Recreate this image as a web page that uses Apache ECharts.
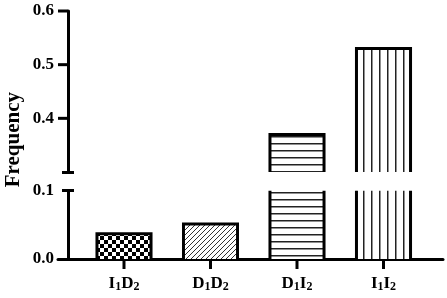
<!DOCTYPE html>
<html>
<head>
<meta charset="utf-8">
<script src="https://cdn.jsdelivr.net/npm/echarts@6/dist/echarts.min.js"></script>
<style>
  html, body { margin: 0; padding: 0; background: #fff; }
  #chart { width: 447px; height: 298px; }
</style>
</head>
<body>
<div id="chart"></div>
<script>
// data
const categories = ['I1D2', 'D1D2', 'D1I2', 'I1I2'];
const frequency = [0.037, 0.051, 0.370, 0.530];
const patterns = ['checker', 'diag', 'horiz', 'vert'];
const upperTicks = [0.4, 0.5, 0.6];
const lowerTicks = [0.0, 0.1];

const FONT = '"Liberation Serif", "Times New Roman", serif';

// canvas tiles used as bar fills
function makePattern(kind) {
  const c = document.createElement('canvas');
  const ctx = c.getContext('2d');
  if (kind === 'checker') {
    c.width = c.height = 8;
    ctx.fillStyle = '#fff'; ctx.fillRect(0, 0, 8, 8);
    ctx.fillStyle = '#000';
    ctx.fillRect(0, 0, 4, 4); ctx.fillRect(4, 4, 4, 4);
  } else if (kind === 'diag') {
    const s = 5;
    c.width = c.height = s;
    ctx.fillStyle = '#fff'; ctx.fillRect(0, 0, s, s);
    ctx.strokeStyle = '#333'; ctx.lineWidth = 1;
    ctx.beginPath();
    ctx.moveTo(0, s); ctx.lineTo(s, 0);
    ctx.moveTo(-1, 1); ctx.lineTo(1, -1);
    ctx.moveTo(s - 1, s + 1); ctx.lineTo(s + 1, s - 1);
    ctx.stroke();
  } else if (kind === 'horiz') {
    c.width = 4; c.height = 7;
    ctx.fillStyle = '#fff'; ctx.fillRect(0, 0, 4, 7);
    ctx.fillStyle = '#222'; ctx.fillRect(0, 3, 4, 1.5);
  } else {
    c.width = 8; c.height = 4;
    ctx.fillStyle = '#fff'; ctx.fillRect(0, 0, 8, 4);
    ctx.fillStyle = '#222'; ctx.fillRect(3, 0, 1.5, 4);
  }
  return { image: c, repeat: 'repeat' };
}
const fills = patterns.map(makePattern);
const line = { stroke: '#000', lineWidth: 3, fill: null };
const axisOffset = 12.75;
const tickLen = 10;

// bar drawn with open ends where the axis is broken
function renderBar(params, api) {
  const idx = api.value(0);
  const val = api.value(1);
  const cs = params.coordSys;
  const bottom = cs.y + cs.height;
  const pt = api.coord([idx, val]);
  if (pt[1] >= bottom) return null;
  const top = Math.max(pt[1], cs.y);
  const w = api.size([1, 0])[0] * 0.625;
  const l = pt[0] - w / 2, r = pt[0] + w / 2;
  const children = [{
    type: 'rect',
    shape: { x: l, y: top, width: w, height: bottom - top },
    style: { fill: fills[idx], stroke: null }
  }];
  if (pt[1] >= cs.y) {
    children.push({ type: 'polyline', shape: { points: [[l, bottom], [l, top], [r, top], [r, bottom]] }, style: line });
  } else {
    children.push({ type: 'line', shape: { x1: l, y1: bottom, x2: l, y2: top }, style: line });
    children.push({ type: 'line', shape: { x1: r, y1: bottom, x2: r, y2: top }, style: line });
  }
  return { type: 'group', children };
}

// y major ticks, left of the (offset) y axis of the upper panel
function renderYTick(params, api) {
  const cs = params.coordSys;
  const y = api.coord([0, api.value(1)])[1];
  const ax = cs.x - axisOffset;
  return { type: 'line', shape: { x1: ax - tickLen, y1: y, x2: ax, y2: y }, style: line };
}

// x ticks below the lower panel
function renderXTick(params, api) {
  const cs = params.coordSys;
  const x = api.coord([api.value(0), 0])[0];
  const b = cs.y + cs.height;
  return { type: 'line', shape: { x1: x, y1: b, x2: x, y2: b + tickLen }, style: line };
}

const barData = frequency.map((v, i) => [i, v]);
const black = () => ({ color: '#000', width: 3 });

const labelStyle = {
  color: '#000', fontFamily: FONT, fontWeight: 'bold', fontSize: 17
};

// axis that only draws the short break caps
function capAxis(gridIndex, min, max, value, inside) {
  return {
    gridIndex, type: 'value', position: 'left', min, max, offset: axisOffset,
    axisLine: { show: false }, splitLine: { show: false }, axisLabel: { show: false },
    axisTick: { show: true, inside: !!inside, length: 6, lineStyle: black(), customValues: [value] }
  };
}

const chart = echarts.init(document.getElementById('chart'));
chart.setOption({
  animation: false,
  grid: [
    { left: 80.75, right: 20.25, top: 11, height: 161 },      // upper panel
    { left: 80.75, right: 20.25, top: 190.5, height: 68.5 },  // lower panel
    { left: 58, width: 385, top: 259, height: 0 }             // baseline
  ],
  xAxis: [
    { gridIndex: 0, type: 'category', data: categories, show: false },
    { gridIndex: 1, type: 'category', data: categories, position: 'bottom',
      axisLine: { show: false }, axisTick: { show: false },
      axisLabel: {
        interval: 0,
        margin: 15,
        formatter: (v) => v.replace(/(\d)/g, '{s|$1}'),
        rich: {
          s: { fontFamily: FONT, fontSize: 12, color: '#000', verticalAlign: 'bottom', padding: [7, 0, 0, 0] }
        },
        ...labelStyle
      } },
    { gridIndex: 2, type: 'value', min: 0, max: 1,
      axisLine: { show: true, lineStyle: black() },
      axisTick: { show: false }, axisLabel: { show: false }, splitLine: { show: false } }
  ],
  yAxis: [
    { gridIndex: 0, type: 'value', position: 'left', min: 0.3, max: 0.6, interval: 0.1, offset: axisOffset,
      axisLine: { show: true, lineStyle: black() },
      axisTick: { show: false },
      axisLabel: { margin: 14, customValues: upperTicks, formatter: (v) => v.toFixed(1), ...labelStyle },
      splitLine: { show: false } },
    capAxis(0, 0.3, 0.6, 0.3),
    capAxis(0, 0.3, 0.6, 0.3, true),
    { gridIndex: 1, type: 'value', position: 'left', min: 0, max: 0.1, interval: 0.1, offset: axisOffset,
      axisLine: { show: true, lineStyle: black() },
      axisTick: { show: false },
      axisLabel: { margin: 14, customValues: lowerTicks, formatter: (v) => v.toFixed(1), ...labelStyle },
      splitLine: { show: false } },
    capAxis(1, 0, 0.1, 0.1),
    capAxis(1, 0, 0.1, 0.1, true),
    { gridIndex: 2, type: 'value', show: false }
  ],
  graphic: [{
    type: 'text',
    left: 3,
    top: 92,
    rotation: Math.PI / 2,
    style: { text: 'Frequency', fill: '#000', font: 'bold 21px ' + FONT }
  }],
  series: [
    { type: 'custom', xAxisIndex: 0, yAxisIndex: 0, data: barData, renderItem: renderBar, clip: true },
    { type: 'custom', xAxisIndex: 1, yAxisIndex: 3, data: barData, renderItem: renderBar, clip: true },
    { type: 'custom', xAxisIndex: 0, yAxisIndex: 0, data: upperTicks.map((v) => [0, v]),
      renderItem: renderYTick, clip: false, silent: true, z: 10 },
    { type: 'custom', xAxisIndex: 1, yAxisIndex: 3, data: categories.map((c, i) => [i, 0]),
      renderItem: renderXTick, clip: false, silent: true }
  ]
});
</script>
</body>
</html>
